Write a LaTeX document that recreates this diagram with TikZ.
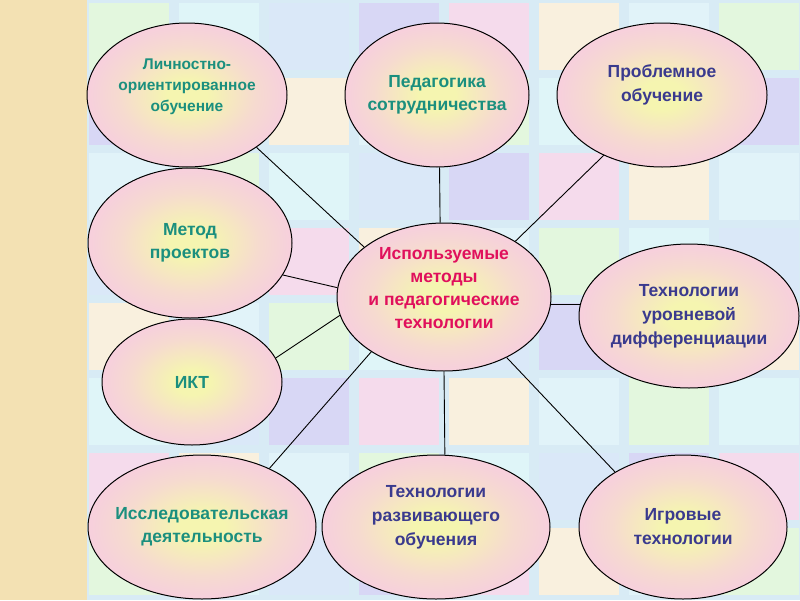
\documentclass[tikz,border=0pt]{standalone}
\usepackage{fontspec}
\setmainfont{Liberation Sans}
\usetikzlibrary{
    shapes.geometric % для эллипсов
}

% --- Цвета ---
\definecolor{stripbg}{HTML}{F3E1B3}
\definecolor{pagebg}{HTML}{D8EBF5}
\definecolor{tileA}{HTML}{E3F7DE}
\definecolor{tileB}{HTML}{DFF5F8}
\definecolor{tileC}{HTML}{DAE8F8}
\definecolor{tileD}{HTML}{D8D7F5}
\definecolor{tileE}{HTML}{F5DBEC}
\definecolor{tileF}{HTML}{F9F0DE}
\definecolor{tileG}{HTML}{E1F3F9}
\definecolor{bubPink}{HTML}{F7C5E9}
\definecolor{bubYellow}{HTML}{F5F5B0}
\definecolor{tealtxt}{HTML}{1B8F7E}
\definecolor{navytxt}{HTML}{3A3A8E}
\definecolor{redtxt}{HTML}{E0105C}

% заливка эллипсов: жёлтая середина, розовый край
\pgfdeclareradialshading{bubshade}{\pgfpoint{0bp}{0bp}}{%
    color(0bp)=(bubYellow); color(5bp)=(bubYellow);
    color(17bp)=(bubPink!55!bubYellow);
    color(32bp)=(bubPink); color(50bp)=(bubPink)}

\begin{document}
\begin{tikzpicture}[x=1pt, y=-1pt] % координаты в пикселях, ось y вниз

    % --- Стили ---
    \tikzset{
        % эллипс-пузырь
        bubble_box/.style 2 args={
            ellipse,
            draw=black,
            line width=1pt,
            shading=bubshade,
            minimum width=#1,
            minimum height=#2,
            inner sep=0pt
        },
        % надписи
        teal_text/.style={text=tealtxt, align=center,
            font=\bfseries\fontsize{17.5}{23}\selectfont},
        navy_text/.style={text=navytxt, align=center,
            font=\bfseries\fontsize{17.5}{24}\selectfont},
        red_text/.style={text=redtxt, align=center,
            font=\bfseries\fontsize{17.5}{23}\selectfont},
        % соединительные линии
        link_line/.style={draw=black, line width=0.9pt}
    }

    \useasboundingbox (0,0) rectangle (800,600);

    % --- Фон ---
    \fill[pagebg] (0,0) rectangle (800,600);
    \foreach \i in {0,...,7} {
        \foreach \j in {0,...,7} {
            \pgfmathsetmacro{\tc}{{"tileA","tileB","tileC","tileD","tileE","tileF","tileG"}[mod(\i+3*\j,7)]}
            \fill[\tc] (89+90*\i, 3+75*\j) rectangle ++(80,67);
        }
    }
    \fill[stripbg] (0,0) rectangle (87,600);

    % --- Центр ---
    \node[bubble_box={214}{148},
        label={[red_text, yshift=9pt]center:{Используемые\\методы\\и педагогические\\технологии}}]
        (metody) at (444,297) {};

    % --- Верхний ряд ---
    \node[bubble_box={200}{144},
        label={[teal_text, yshift=8pt, font=\bfseries\fontsize{15.5}{21}\selectfont]center:{Личностно-\\ориентированное\\обучение}}]
        (lichnost) at (187,95) {};
    \node[bubble_box={184}{144},
        label={[teal_text]center:{Педагогика\\сотрудничества}}]
        (sotrud) at (437,95) {};
    \node[bubble_box={210}{144},
        label={[navy_text, yshift=10pt]center:{Проблемное\\обучение}}]
        (problem) at (662,95) {};

    % --- Левый столбец ---
    \node[bubble_box={204}{150},
        label={[teal_text]center:{Метод\\проектов}}]
        (proekt) at (190,243) {};
    \node[bubble_box={180}{126},
        label={[teal_text]center:{ИКТ}}]
        (ikt) at (192,382) {};

    % --- Справа ---
    \node[bubble_box={220}{144},
        label={[navy_text]center:{Технологии\\уровневой\\дифференциации}}]
        (urovn) at (689,316) {};

    % --- Нижний ряд ---
    \node[bubble_box={228}{144},
        label={[teal_text]center:{Исследовательская\\деятельность}}]
        (issled) at (202,527) {};
    \node[bubble_box={228}{144},
        label={[navy_text, yshift=10pt]center:{Технологии\\развивающего\\обучения}}]
        (razvit) at (436,527) {};
    \node[bubble_box={208}{144},
        label={[navy_text]center:{Игровые\\технологии}}]
        (igrov) at (683,527) {};

    % --- Линии ---
    \draw[link_line] (lichnost.-37) -- (metody.148.5);
    \draw[link_line] (sotrud.-88.4) -- (metody.93.9);
    \draw[link_line] (problem.-134) -- (metody.38.3);
    \draw[link_line] (proekt.-19.5) -- (metody.175.2);
    \draw[link_line] (ikt.16.9) -- (metody.190);
    \draw[link_line] (issled.41.8) -- (metody.217.4);
    \draw[link_line] (razvit.83.7) -- (metody.-90);
    \draw[link_line] (igrov.141.4) -- (metody.-44.5);
    \draw[link_line] (urovn.174.8) -- (metody.-4.9);

\end{tikzpicture}
\end{document}
